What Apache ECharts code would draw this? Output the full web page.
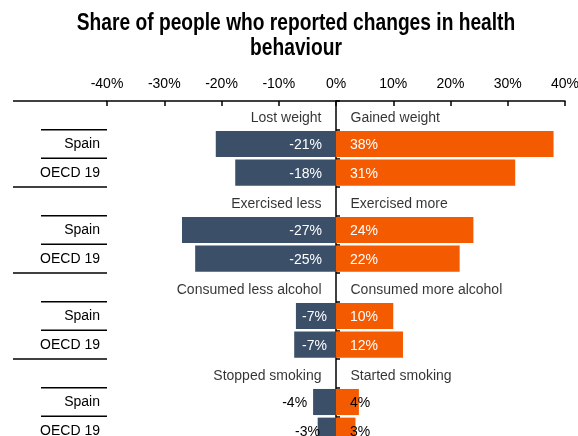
<!DOCTYPE html>
<html>
<head>
<meta charset="utf-8">
<script src="https://cdn.jsdelivr.net/npm/echarts@6/dist/echarts.min.js"></script>
<style>
html,body{margin:0;padding:0;background:#fff;}
#main{width:578px;height:436px;}
</style>
</head>
<body>
<div id="main"></div>
<script>
// ---- data ----
const titleLines = ['Share of people who reported changes in health', 'behaviour'];
const rowLabels = ['', 'Spain', 'OECD 19', '', 'Spain', 'OECD 19', '', 'Spain', 'OECD 19', '', 'Spain', 'OECD 19'];
const decreaseHeaders = ['Lost weight', 'Exercised less', 'Consumed less alcohol', 'Stopped smoking'];
const increaseHeaders = ['Gained weight', 'Exercised more', 'Consumed more alcohol', 'Started smoking'];
// per group: [Spain, OECD 19]
const decreaseValues = [-21, -17.6, -26.9, -24.6, -7, -7.3, -4, -3.2];
const increaseValues = [38, 31.3, 24, 21.6, 10, 11.7, 4, 3.4];
const xMin = -40, xMax = 40, xStep = 10;

// ---- styles ----
const FONT = "'Liberation Sans', Arial, sans-serif";
const BLUE = '#3B4F69';
const ORANGE = '#F45A00';
const LBL_OFFSET = [0, 1.5];
// label placement tweaks for short bars (by position in value arrays)
const decLabelStyle = {4: {distance: 9}, 5: {distance: 9}, 6: {position: 'left', distance: 6, color: '#000'}, 7: {distance: 16, color: '#000'}};
const incLabelStyle = {6: {color: '#000'}, 7: {color: '#000'}};

function buildBarData(values, styles) {
  const out = [];
  for (let g = 0; g < 4; g++) {
    out.push('-');
    for (let k = 0; k < 2; k++) {
      const idx = g * 2 + k;
      const item = {value: values[idx]};
      if (styles[idx]) item.label = styles[idx];
      out.push(item);
    }
  }
  return out;
}
function headerData() {
  const out = [];
  for (let g = 0; g < 4; g++) out.push([0, g * 3]);
  return out;
}

const chart = echarts.init(document.getElementById('main'), null, {renderer: 'canvas'});
const option = {
  animation: false,
  backgroundColor: '#fff',
  grid: {left: 107, right: 13, top: 101, height: 344, outerBoundsMode: 'none', containLabel: false},
  xAxis: {
    type: 'value', position: 'top', min: xMin, max: xMax, interval: xStep,
    axisLine: {show: true, lineStyle: {color: '#000', width: 1.5}},
    axisTick: {show: true, inside: true, length: 5, lineStyle: {color: '#000', width: 1.5}},
    axisLabel: {formatter: '{value}%', color: '#000', fontFamily: FONT, fontSize: 14, margin: 10},
    splitLine: {show: false}
  },
  yAxis: [{
    type: 'category', inverse: true, data: rowLabels, position: 'left',
    axisLine: {show: false, onZero: false}, axisTick: {show: false},
    axisLabel: {color: '#000', fontFamily: FONT, fontSize: 14, margin: 7, padding: [3, 0, 0, 0]}
  }, {
    type: 'category', inverse: true, data: rowLabels, position: 'left',
    axisLine: {show: true, onZero: true, lineStyle: {color: '#000', width: 1.5}},
    axisTick: {show: true, inside: true, length: 4, lineStyle: {color: '#000', width: 1.5}},
    axisLabel: {show: false}
  }],
  series: [{
    type: 'bar', name: 'decrease', stack: 'all', barCategoryGap: '9%',
    data: buildBarData(decreaseValues, decLabelStyle),
    itemStyle: {color: BLUE},
    label: {show: true, position: 'insideRight', distance: 14, offset: LBL_OFFSET, color: '#fff', fontFamily: FONT, fontSize: 14,
      formatter: p => Math.round(p.value) + '%'}
  }, {
    type: 'bar', name: 'increase', stack: 'all', barCategoryGap: '9%',
    data: buildBarData(increaseValues, incLabelStyle),
    itemStyle: {color: ORANGE},
    label: {show: true, position: 'insideLeft', distance: 14, offset: LBL_OFFSET, color: '#fff', fontFamily: FONT, fontSize: 14,
      formatter: p => Math.round(p.value) + '%'}
  }, {
    type: 'scatter', name: 'decHeader', data: headerData(), symbolSize: 1, itemStyle: {color: 'rgba(0,0,0,0)'},
    label: {show: true, position: 'left', distance: 14, offset: [0, 2.5], color: '#000', fontFamily: FONT, fontSize: 14,
      formatter: p => decreaseHeaders[p.dataIndex]}, silent: true, z: 5
  }, {
    type: 'scatter', name: 'incHeader', data: headerData(), symbolSize: 1, itemStyle: {color: 'rgba(0,0,0,0)'},
    label: {show: true, position: 'right', distance: 14, offset: [0, 2.5], color: '#000', fontFamily: FONT, fontSize: 14,
      formatter: p => increaseHeaders[p.dataIndex]}, silent: true, z: 5
  }]
};
chart.setOption(option);

// title (condensed bold, like Arial Narrow) and separator lines in the label column
const yOf = i => chart.convertToPixel({yAxisIndex: 0}, i);
const band = yOf(1) - yOf(0);
const gridLeft = chart.convertToPixel({xAxisIndex: 0}, xMin);
const elements = titleLines.map((t, i) => ({
  type: 'text', x: 296, y: 11 + i * 25, scaleX: 0.8, silent: true,
  style: {text: t, fill: '#000', font: "bold 24px 'Liberation Sans', Arial, sans-serif",
    textAlign: 'center', textVerticalAlign: 'top'}
}));
const longStart = 13, shortStart = 41;
for (let g = 0; g <= 4; g++) {
  const yTop = (g < 4 ? yOf(g * 3) : yOf(11) + band) - band / 2;
  elements.push({type: 'line', shape: {x1: longStart, y1: yTop, x2: gridLeft, y2: yTop}, style: {stroke: '#000', lineWidth: 1.5}, silent: true});
  if (g < 4) {
    [1, 2].forEach(k => {
      const y = yOf(g * 3 + k) - band / 2;
      elements.push({type: 'line', shape: {x1: shortStart, y1: y, x2: gridLeft, y2: y}, style: {stroke: '#000', lineWidth: 1.5}, silent: true});
    });
  }
}
chart.setOption({graphic: elements});
</script>
</body>
</html>
